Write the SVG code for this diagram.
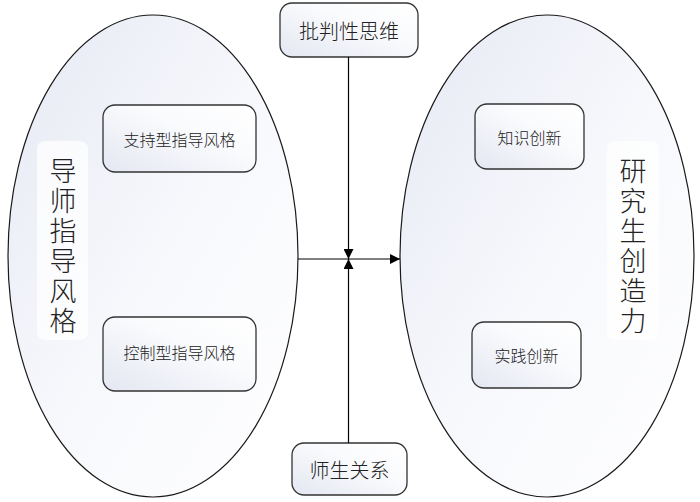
<svg xmlns="http://www.w3.org/2000/svg" width="700" height="502" viewBox="0 0 700 502">
<defs>
<linearGradient id="g" x1="0" y1="0" x2="1" y2="1">
<stop offset="0" stop-color="#e6e9f4"/>
<stop offset="0.5" stop-color="#f7f8fc"/>
<stop offset="1" stop-color="#ffffff"/>
</linearGradient>
<linearGradient id="gb" x1="0" y1="1" x2="1" y2="0">
<stop offset="0" stop-color="#e4e7f2"/>
<stop offset="0.6" stop-color="#fafbfd"/>
<stop offset="1" stop-color="#ffffff"/>
</linearGradient>
<marker id="ah" viewBox="0 0 10 10" refX="10" refY="5" markerWidth="10" markerHeight="10" markerUnits="userSpaceOnUse" orient="auto">
<path d="M0,0 L10,5 L0,10 Z" fill="#000"/>
</marker>
</defs>
<style>
.ell{fill:url(#g);stroke:#1a1a1a;stroke-width:1.2}
.box{fill:url(#gb);stroke:#333;stroke-width:1.3}
.t{font-family:"Noto Sans CJK SC","Noto Sans",sans-serif;fill:#222;text-anchor:middle;dominant-baseline:central;font-weight:300}
.v{font-family:"Noto Sans CJK SC","Noto Sans",sans-serif;fill:#222;writing-mode:vertical-rl;text-anchor:start;font-size:27px;letter-spacing:3px;font-weight:300}
.ln{stroke:#000;stroke-width:1.2;fill:none}
.lbl{fill:#fff;opacity:0.75}
</style>
<g id="left">
<ellipse class="ell" cx="153" cy="256" rx="145" ry="241"/>
<rect class="lbl" x="37" y="141" width="51" height="199" rx="8"/>
<text class="v" x="63" y="157">导师指导风格</text>
</g>
<g id="right">
<ellipse class="ell" cx="547" cy="256" rx="147" ry="241"/>
<rect class="lbl" x="607" y="141" width="52" height="199" rx="8"/>
<text class="v" x="633" y="157">研究生创造力</text>
</g>
<g id="support">
<rect class="box" x="103" y="105" width="153" height="67" rx="12"/>
<text class="t" font-size="16" x="179.5" y="138.5">支持型指导风格</text>
</g>
<g id="control">
<rect class="box" x="103" y="317" width="153" height="74" rx="12"/>
<text class="t" font-size="16" x="179.5" y="352">控制型指导风格</text>
</g>
<g id="knowledge">
<rect class="box" x="475" y="104" width="109" height="65" rx="12"/>
<text class="t" font-size="16" x="529.5" y="136.5">知识创新</text>
</g>
<g id="practice">
<rect class="box" x="472" y="322" width="109" height="66" rx="12"/>
<text class="t" font-size="16" x="526.5" y="355">实践创新</text>
</g>
<g id="critical">
<rect class="box" x="280" y="3" width="138" height="54" rx="12"/>
<text class="t" font-size="20" x="349" y="30">批判性思维</text>
</g>
<g id="relation">
<rect class="box" x="292" y="443" width="115" height="52" rx="12"/>
<text class="t" font-size="20" x="349.5" y="469">师生关系</text>
</g>
<g id="connectors">
<line class="ln" x1="298" y1="259" x2="400" y2="259" marker-end="url(#ah)"/>
<line class="ln" x1="348.5" y1="57" x2="348.5" y2="259" marker-end="url(#ah)"/>
<line class="ln" x1="348.5" y1="443" x2="348.5" y2="259" marker-end="url(#ah)"/>
</g>
</svg>
